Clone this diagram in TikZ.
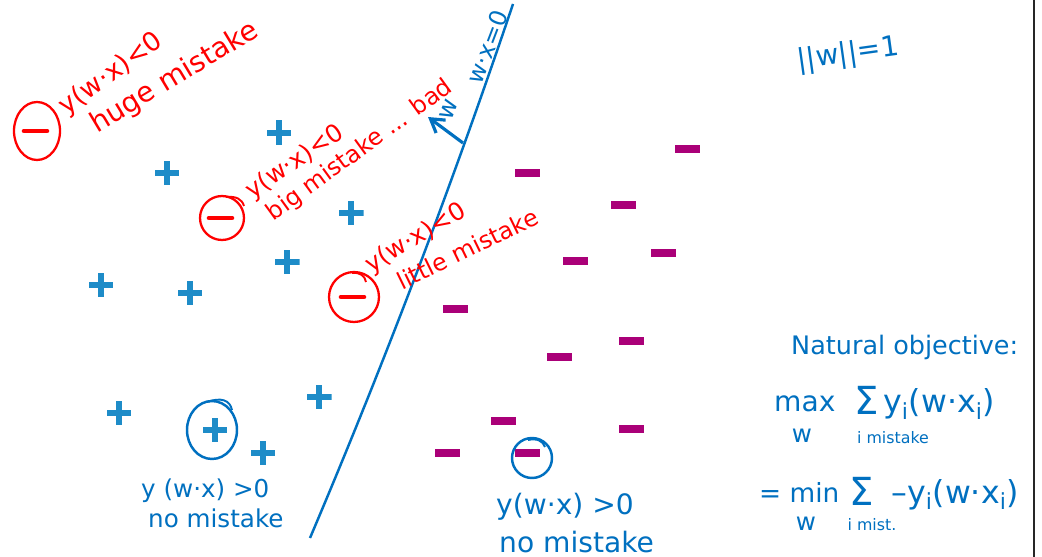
\documentclass[tikz,border=0pt]{standalone}
\usepackage{fontspec}
\setmainfont{DejaVu Sans}
\usetikzlibrary{arrows.meta,shapes.geometric}
\definecolor{plusblue}{RGB}{30,140,200}
\definecolor{minusmag}{RGB}{170,0,120}
\definecolor{inkblue}{RGB}{0,112,192}
\definecolor{inkred}{RGB}{255,0,0}
\newcommand\handfont[1]{\fontsize{#1}{#1}\selectfont}

\begin{document}
\begin{tikzpicture}[x=0.02cm,y=-0.02cm,line width=1.4pt,
  plussign/.style={minimum size=0.5cm,inner sep=0pt,path picture={
      \fill[plusblue] ([yshift=-0.055cm]path picture bounding box.west) rectangle ([yshift=0.055cm]path picture bounding box.east);
      \fill[plusblue] ([xshift=-0.055cm]path picture bounding box.south) rectangle ([xshift=0.055cm]path picture bounding box.north);}},
  minussign/.style={fill=minusmag,minimum width=0.5cm,minimum height=0.16cm,inner sep=0pt},
  redring/.style={ellipse,draw=inkred,line width=1.3pt,inner sep=0pt,path picture={
      \draw[inkred,line width=2.6pt,line cap=round] ([xshift=-0.26cm]path picture bounding box.center) -- ([xshift=0.2cm]path picture bounding box.center);}},
  redtext/.style={text=inkred,inner sep=0pt,anchor=base west,font=\handfont{14}},
  bluetext/.style={text=inkblue,inner sep=0pt,anchor=base west,font=\handfont{14}},
  bluesmall/.style={text=inkblue,inner sep=0pt,anchor=base,font=\handfont{9}}]
  \path[fill=white] (0,0) rectangle (1042,557);
  \useasboundingbox (0,0) rectangle (1042,557);
  % puntos: + y -
  \foreach \px/\py [count=\i] in {279/133,167/173,351/213,287/262,101/285,190/293,319/397,119/413,215/430,263/453}
    \node[plussign] (plus\i) at (\px,\py) {};
  \foreach \px/\py [count=\i] in {687/149,527/173,623/205,663/253,575/261,455/309,631/341,559/357,503/421,631/429,447/453,527/453}
    \node[minussign] (minus\i) at (\px,\py) {};
  % frontera w.x=0 y vector w
  \coordinate (wtop) at (513,4);
  \coordinate (wbot) at (310,538);
  \coordinate (wfoot) at (463,143);
  \coordinate (wtip) at (428,117);
  \draw[inkblue] (wtop) .. controls (453,182) and (386,359) .. (wbot);
  \draw[inkblue,line width=1.8pt,-{Straight Barb[length=2.6mm,width=3.2mm]}] (wfoot) -- (wtip);
  \node[bluetext,anchor=center,rotate=69,font=\handfont{13.5}] (wxzero) at (487,47) {w·x=0};
  \node[bluetext,anchor=center,rotate=69] (wlabel) at (449,110) {w};
  % errores (rojo)
  \node[redring,minimum width=0.92cm,minimum height=1.16cm] (huge) at (37,131) {};
  \node[redtext,rotate=36,font=\handfont{15}] (hugeeq) at (66,116) {y(w·x)<0};
  \node[redtext,rotate=31,font=\handfont{16}] (hugetxt) at (96,134) {huge mistake};
  \node[redring,minimum width=0.88cm,minimum height=0.88cm] (big) at (222,218) {};
  \node[redtext,rotate=34] (bigeq) at (251,200) {y(w·x)<0};
  \node[redtext,rotate=36,font=\handfont{13.5}] (bigtxt) at (273,222) {big mistake ... bad};
  \node[redring,minimum width=1cm,minimum height=1cm] (little) at (354,297) {};
  \node[redtext,rotate=31] (littleeq) at (370,274) {y(w·x)<0};
  \node[redtext,rotate=26,font=\handfont{13.5}] (littletxt) at (401,291) {little mistake};
  \draw[inkred,line width=1.1pt] (226,197) .. controls (236,196) and (242,199) .. (244,206);
  \draw[inkred,line width=1.1pt] (352,273) .. controls (360,272) and (365,276) .. (366,282);
  % aciertos (azul)
  \draw[inkblue] (plus9.center) ++(-3,0) ellipse [x radius=0.5cm,y radius=0.58cm];
  \draw[inkblue,line width=1.1pt] (207,402) .. controls (221,397) and (230,400) .. (232,410);
  \node[bluetext] (okleft) at (140,497) {y (w·x) >0};
  \node[bluetext] (okleftb) at (147,527) {no mistake};
  \draw[inkblue] (minus12.center) ++(5,5) ellipse [x radius=0.4cm,y radius=0.4cm];
  \draw[inkblue,line width=1.1pt] (528,440) .. controls (537,438) and (543,441) .. (545,447);
  \node[bluetext,font=\handfont{16}] (okright) at (495,514) {y(w·x) >0};
  \node[bluetext,font=\handfont{16}] (okrightb) at (498,552) {no mistake};
  % objetivo
  \node[bluetext,anchor=center,rotate=8,font=\handfont{16}] (norm) at (848,55) {||w||=1};
  \node[bluetext,font=\handfont{14.5}] (natural) at (790,355) {Natural objective:};
  \node[bluetext,font=\handfont{16}] (maxop) at (773,412) {max};
  \node[bluetext,font=\handfont{22}] (maxsum) at (853,415) {Σ};
  \node[bluetext,font=\handfont{18}] (maxterm) at (882,413) {y\textsubscript{i}(w·x\textsubscript{i})};
  \node[bluesmall,font=\handfont{14}] (maxw) at (802,442) {w};
  \node[bluesmall] (maxi) at (893,443) {i mistake};
  \node[bluetext,font=\handfont{15}] (minop) at (758,502) {= min};
  \node[bluetext,font=\handfont{22}] (minsum) at (848,505) {Σ};
  \node[bluetext,font=\handfont{18}] (minterm) at (890,503) {–y\textsubscript{i}(w·x\textsubscript{i})};
  \node[bluesmall,font=\handfont{14}] (minw) at (806,530) {w};
  \node[bluesmall] (mini) at (872,530) {i mist.};
  % borde derecho
  \draw[black!85,line width=1.6pt] (1034,0) -- (1034,557);
\end{tikzpicture}
\end{document}
